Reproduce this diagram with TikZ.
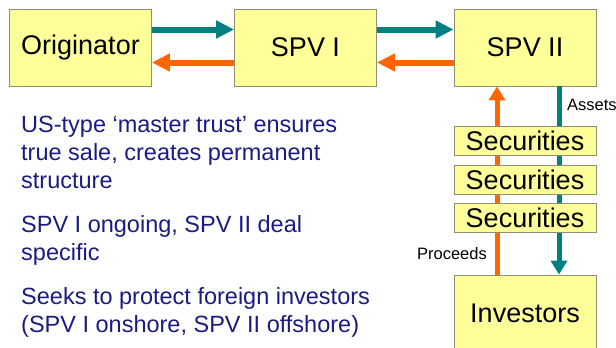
\documentclass[tikz,border=0pt]{standalone}
\usepackage{fontspec}
\setmainfont{Liberation Sans}
\usetikzlibrary{arrows.meta}
\definecolor{boxfill}{HTML}{FFFF99}
\definecolor{boxline}{HTML}{8F8F70}
\definecolor{assetteal}{HTML}{008080}
\definecolor{cashorange}{HTML}{FF6600}
\definecolor{textblue}{HTML}{1C1C80}
\begin{document}
\begin{tikzpicture}[x=1pt,y=-1pt,
		party/.style={draw=boxline,fill=boxfill,line width=0.8pt,inner sep=0pt,minimum width=142pt,minimum height=77pt,font=\fontsize{27}{30}\selectfont},
		secbox/.style={party,minimum height=29pt},
		hflow/.style={line width=6pt,-{Triangle[length=18pt,width=17pt]}},
		vflow/.style={line width=5pt,-{Triangle[length=14pt,width=16pt]}},
		point/.style={textblue,anchor=base west,align=left,inner sep=0pt,font=\fontsize{23.5}{28}\selectfont},
		small/.style={inner sep=0pt,font=\fontsize{16.5}{20}\selectfont}]
	\useasboundingbox[fill=white] (0,0) rectangle (616,348);
	\node[party] (orig) at (80.5,47.5) {Originator};
	\node[party] (spvone) at (305.5,47.5) {SPV I};
	\node[party] (spvtwo) at (525,47.5) {SPV II};
	\node[party] (inv) at (525,313.5) {Investors};
	\draw[hflow,assetteal] ([yshift=18pt]orig.east)--([yshift=18pt]spvone.west);
	\draw[hflow,assetteal] ([yshift=18pt]spvone.east)--([yshift=18pt]spvtwo.west);
	\draw[hflow,cashorange] ([yshift=-15pt]spvtwo.west)--([yshift=-15pt]spvone.east);
	\draw[hflow,cashorange] ([yshift=-15pt]spvone.west)--([yshift=-15pt]orig.east);
	\draw[vflow,cashorange] ([xshift=-28pt]inv.north)--([xshift=-28pt]spvtwo.south);
	\draw[vflow,assetteal] ([xshift=34pt]spvtwo.south)--([xshift=34pt]inv.north);
	\node[secbox] (secone) at (525,141) {Securities};
	\node[secbox] (sectwo) at (525,179.5) {Securities};
	\node[secbox] (secthree) at (525,218) {Securities};
	\node[small,anchor=base west] (assets) at (567,110) {Assets};
	\node[small,anchor=base east] (proceeds) at (487,259) {Proceeds};
	\node[point] (trust) at (21,188) {US-type ‘master trust’ ensures\\true sale, creates permanent\\structure};
	\node[point] (ongoing) at (21,260) {SPV I ongoing, SPV II deal\\specific};
	\node[point] (protect) at (21,332) {Seeks to protect foreign investors\\(SPV I onshore, SPV II offshore)};
\end{tikzpicture}
\end{document}
